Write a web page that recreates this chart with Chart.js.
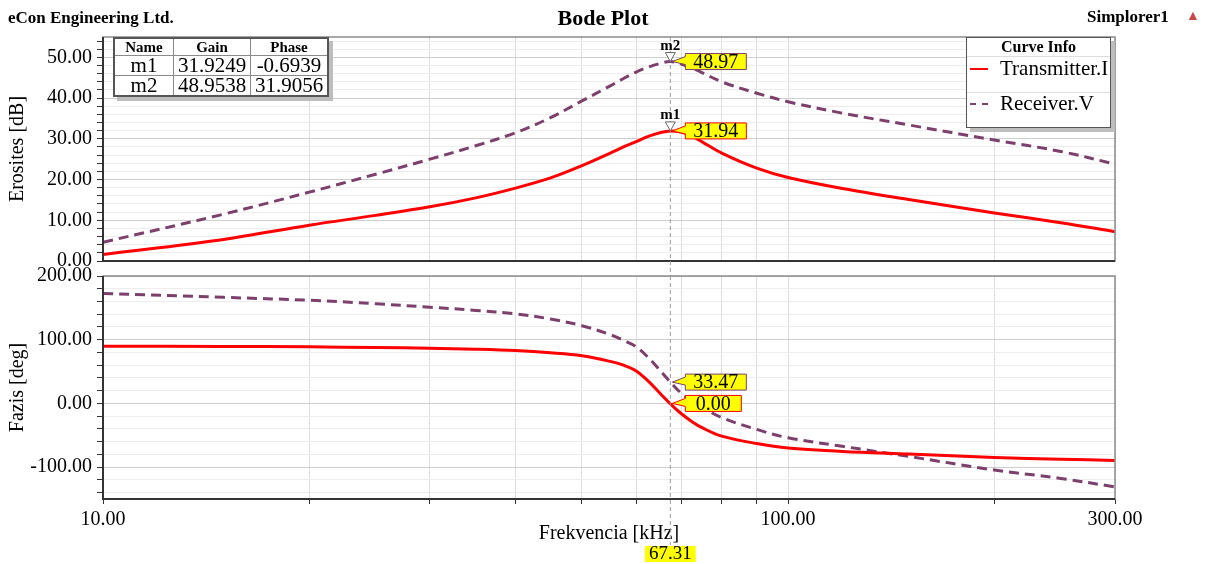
<!DOCTYPE html>
<html>
<head>
<meta charset="utf-8">
<script src="https://cdn.jsdelivr.net/npm/chart.js@4.4.1/dist/chart.umd.min.js"></script>
<style>
body { margin: 0; background: #fff; font-family: "Liberation Serif", serif; }
#wrap { position: relative; width: 1206px; height: 564px; overflow: hidden; }
#wrap canvas { position: absolute; left: 0; top: 0; }
.txt { position: absolute; white-space: nowrap; color: #000; }
#tbl { position: absolute; left: 113px; top: 37px; border-collapse: collapse; background: #fff;
  box-shadow: 4px 4px 0 #bdbdbd; border: 2px solid #555; }
#tbl td { border: 1px solid #8a8a8a; text-align: center; padding: 0 2px; line-height: 19px; font-size: 21px; }
#tbl tr.h td { font-weight: bold; font-size: 15px; line-height: 16px; }
#leg { position: absolute; left: 966px; top: 37px; width: 143px; height: 89px; background: #fff;
  border: 1px solid #555; box-shadow: 4px 4px 0 #bdbdbd; }
#leg .head { text-align: center; font-weight: bold; font-size: 16px; line-height: 18px; border-bottom: 1px solid #ddd; }
#leg .row { position: absolute; left: 0; width: 143px; font-size: 21px; line-height: 22px; }
#leg .smp { position: absolute; left: 3px; top: 11px; width: 18px; height: 0; }
</style>
</head>
<body>
<div id="wrap">
  <canvas id="gain" width="1206" height="564"></canvas>
  <canvas id="phase" width="1206" height="564"></canvas>
  <div class="txt" style="left:8px;top:8px;font-size:17px;font-weight:bold;line-height:20px">eCon Engineering Ltd.</div>
  <div class="txt" style="left:0;width:1206px;text-align:center;top:5px;font-size:22px;font-weight:bold;line-height:26px">Bode Plot</div>
  <div class="txt" style="left:1087px;top:7px;font-size:17px;font-weight:bold;line-height:20px">Simplorer1</div>
  <div class="txt" style="left:1186px;top:8px;font-size:14px;color:#c84848;line-height:16px">&#9650;</div>
  <table id="tbl"></table>
  <div id="leg">
    <div class="head">Curve Info</div>
    <div class="row" style="top:19px;border-bottom:1px solid #ddd;height:35px">
      <span class="smp" style="border-top:2px solid #ff0000"></span><span style="position:absolute;left:33px">Transmitter.I</span>
    </div>
    <div class="row" style="top:54px">
      <span class="smp" style="border-top:2px dashed #7d3f6c;top:11px"></span><span style="position:absolute;left:33px">Receiver.V</span>
    </div>
  </div>
</div>
<script>
// frequency grid in kHz
const freqs   = [10, 15, 20, 25, 30, 35, 40, 45, 50, 55, 57.5, 60, 62.5, 65, 67.31, 70, 72.5, 75, 80, 90, 100, 120, 150, 200, 250, 300];
const txGain  = [1.6, 5.3, 8.8, 11.2, 13.3, 15.5, 17.9, 20.4, 23.4, 26.5, 28.0, 29.3, 30.6, 31.5, 31.94, 31.6, 30.6, 29.2, 26.5, 22.8, 20.5, 17.8, 15.1, 11.8, 9.4, 7.2];
const rxGain  = [4.6, 11.5, 16.9, 21.3, 25.0, 28.3, 31.5, 35.2, 39.3, 43.0, 44.8, 46.4, 47.6, 48.5, 48.97, 48.3, 47.3, 46.2, 44.0, 41.2, 39.1, 36.3, 33.4, 29.7, 26.9, 23.8];
const txPhase = [89.8, 89.5, 88.8, 87.8, 86.6, 85.0, 82.9, 79.5, 74.9, 66.0, 60.0, 51.0, 35.0, 16.0, -0.69, -17.0, -29.0, -38.5, -51.4, -63.0, -70.0, -75.3, -79.5, -84.8, -87.5, -89.6];
const rxPhase = [172.5, 166.5, 162.0, 156.5, 151.0, 146.0, 140.6, 132.5, 122.0, 108.0, 99.0, 89.0, 72.0, 52.0, 33.47, 15.0, 3.5, -6.5, -22.3, -40.8, -54.0, -67.3, -83.2, -104.5, -117.7, -131.0];

const seriesNames = ['Transmitter.I', 'Receiver.V'];
const seriesColors = ['#ff0000', '#7d3f6c'];

const markerFreq = 67.31;
const markerNames = ['m1', 'm2'];
const markerGain = [31.9249, 48.9538];
const markerPhase = [-0.6939, 31.9056];
const calloutGain = [31.94, 48.97];
const calloutPhase = [0.00, 33.47];

const xTicks = [10, 20, 30, 40, 50, 60, 70, 80, 90, 100, 200, 300];
const xLabeled = [10, 100, 300];

const FONT = '"Liberation Serif", serif';
Chart.defaults.font.family = FONT;
Chart.defaults.color = '#000';

// marker table
const tbl = document.getElementById('tbl');
let rows = '<tr class="h"><td style="width:54px">Name</td><td style="width:72px">Gain</td><td style="width:72px">Phase</td></tr>';
markerNames.forEach((n, i) => {
  rows += `<tr><td>${n}</td><td>${markerGain[i].toFixed(4)}</td><td>${markerPhase[i].toFixed(4)}</td></tr>`;
});
tbl.innerHTML = rows;

const pts = vals => freqs.map((f, i) => ({ x: f, y: vals[i] }));

const makeDatasets = (a, b) => [
  { label: seriesNames[0], data: pts(a), borderColor: seriesColors[0], borderWidth: 3 },
  { label: seriesNames[1], data: pts(b), borderColor: seriesColors[1], borderWidth: 3, borderDash: [10, 6] },
];

const range = (from, to, step) => {
  const out = [];
  for (let v = from; v <= to + 1e-9; v += step) out.push({ value: v });
  return out;
};

function callout(ctx, px, py, text, border) {
  ctx.font = '20px ' + FONT;
  const w = Math.max(ctx.measureText(text).width + 16, 56);
  const bx = px + 15, h = 16;
  ctx.fillStyle = '#ffff00';
  ctx.strokeStyle = border;
  ctx.lineWidth = 1;
  ctx.setLineDash([]);
  ctx.beginPath();
  ctx.moveTo(px + 2, py);
  ctx.lineTo(bx, py - 5);
  ctx.lineTo(bx, py - h / 2);
  ctx.lineTo(bx + w, py - h / 2);
  ctx.lineTo(bx + w, py + h / 2);
  ctx.lineTo(bx, py + h / 2);
  ctx.lineTo(bx, py + 3);
  ctx.closePath();
  ctx.fill();
  ctx.stroke();
  ctx.fillStyle = '#000';
  ctx.textAlign = 'center';
  ctx.textBaseline = 'middle';
  ctx.fillText(text, bx + w / 2, py + 1);
}

function drawFrame(chart) {
  const { ctx, chartArea: a } = chart;
  ctx.save();
  ctx.setLineDash([]);
  ctx.strokeStyle = '#8c8c8c';
  ctx.lineWidth = 1.5;
  ctx.strokeRect(a.left, a.top, a.right - a.left, a.bottom - a.top);
  ctx.strokeStyle = '#333';
  ctx.lineWidth = 2;
  ctx.beginPath();
  ctx.moveTo(a.left, a.top);
  ctx.lineTo(a.left, a.bottom);
  ctx.lineTo(a.right, a.bottom);
  ctx.stroke();
  ctx.restore();
}

const gainMarkers = {
  id: 'gainMarkers',
  afterDatasetsDraw(chart) {
    drawFrame(chart);
    const { ctx, chartArea: a, scales: { x, y } } = chart;
    const px = x.getPixelForValue(markerFreq);
    ctx.save();
    ctx.strokeStyle = '#9a9a9a';
    ctx.lineWidth = 1;
    ctx.setLineDash([4, 3]);
    ctx.beginPath();
    ctx.moveTo(px, a.top);
    ctx.lineTo(px, a.bottom + 15);
    ctx.stroke();
    calloutGain.forEach((v, i) => {
      const py = y.getPixelForValue(v);
      ctx.setLineDash([]);
      ctx.fillStyle = '#fff';
      ctx.strokeStyle = '#666';
      ctx.beginPath();
      ctx.moveTo(px, py);
      ctx.lineTo(px - 5, py - 9);
      ctx.lineTo(px + 5, py - 9);
      ctx.closePath();
      ctx.fill();
      ctx.stroke();
      ctx.fillStyle = '#000';
      ctx.font = 'bold 15px ' + FONT;
      ctx.textAlign = 'center';
      ctx.textBaseline = 'bottom';
      ctx.fillText(markerNames[i], px, py - 8);
      callout(ctx, px, py, v.toFixed(2), seriesColors[i]);
    });
    ctx.restore();
  }
};

const phaseMarkers = {
  id: 'phaseMarkers',
  afterDatasetsDraw(chart) {
    drawFrame(chart);
    const { ctx, chartArea: a, scales: { x, y } } = chart;
    const px = x.getPixelForValue(markerFreq);
    ctx.save();
    ctx.strokeStyle = '#9a9a9a';
    ctx.lineWidth = 1;
    ctx.setLineDash([4, 3]);
    ctx.beginPath();
    ctx.moveTo(px, a.top);
    ctx.lineTo(px, a.bottom + 46);
    ctx.stroke();
    calloutPhase.forEach((v, i) => {
      callout(ctx, px, y.getPixelForValue(v), v.toFixed(2), seriesColors[i]);
    });
    // frequency readout under the axis
    ctx.setLineDash([]);
    ctx.font = '19px ' + FONT;
    const t = markerFreq.toFixed(2);
    const w = ctx.measureText(t).width + 8;
    ctx.fillStyle = '#ffff00';
    ctx.fillRect(px - w / 2, a.bottom + 47, w, 16);
    ctx.fillStyle = '#000';
    ctx.textAlign = 'center';
    ctx.textBaseline = 'middle';
    ctx.fillText(t, px, a.bottom + 55);
    ctx.restore();
  }
};

const xScale = (showTicks) => ({
  type: 'logarithmic',
  min: 10,
  max: 300,
  afterBuildTicks: s => { s.ticks = xTicks.map(v => ({ value: v })); },
  afterFit: s => { s.height = showTicks ? 65 : 0; },
  border: { display: false },
  grid: { color: '#dedede', lineWidth: 1, drawTicks: showTicks, tickLength: 5, tickColor: '#333' },
  ticks: {
    display: showTicks,
    autoSkip: false,
    maxRotation: 0,
    padding: 4,
    font: { size: 20 },
    callback: v => xLabeled.includes(v) ? v.toFixed(2) : ''
  },
  title: {
    display: showTicks,
    text: 'Frekvencia [kHz]',
    font: { size: 20 },
    padding: { top: 0, bottom: 18 }
  }
});

const yScale = (min, max, minorStep, major, title, tickFrom) => ({
  min, max,
  afterBuildTicks: s => { s.ticks = range(tickFrom, max, minorStep); },
  afterFit: s => { s.width = 103; },
  border: { display: false },
  grid: {
    color: c => (Math.abs(c.tick.value % major) < 1e-6 ? '#cfcfcf' : '#ededed'),
    tickLength: 6,
    tickColor: '#333'
  },
  ticks: {
    autoSkip: false,
    padding: 5,
    font: { size: 20 },
    callback: v => (Math.abs(v % major) < 1e-6 ? v.toFixed(2) : '')
  },
  title: { display: true, text: title, font: { size: 20 }, padding: { top: 6, bottom: 0 } }
});

const common = {
  responsive: false,
  animation: false,
  events: [],
  elements: { point: { radius: 0 }, line: { tension: 0.35, fill: false } },
  plugins: { legend: { display: false }, tooltip: { enabled: false } }
};

new Chart(document.getElementById('gain'), {
  type: 'line',
  data: { datasets: makeDatasets(txGain, rxGain) },
  options: {
    ...common,
    layout: { padding: { top: 37, right: 91, bottom: 303, left: 0 } },
    scales: {
      x: xScale(false),
      y: yScale(0, 55, 2, 10, 'Erosites [dB]', 0)
    }
  },
  plugins: [gainMarkers]
});

new Chart(document.getElementById('phase'), {
  type: 'line',
  data: { datasets: makeDatasets(txPhase, rxPhase) },
  options: {
    ...common,
    layout: { padding: { top: 276, right: 91, bottom: 0, left: 0 } },
    scales: {
      x: xScale(true),
      y: yScale(-150, 200, 20, 100, 'Fazis [deg]', -140)
    }
  },
  plugins: [phaseMarkers]
});
</script>
</body>
</html>
